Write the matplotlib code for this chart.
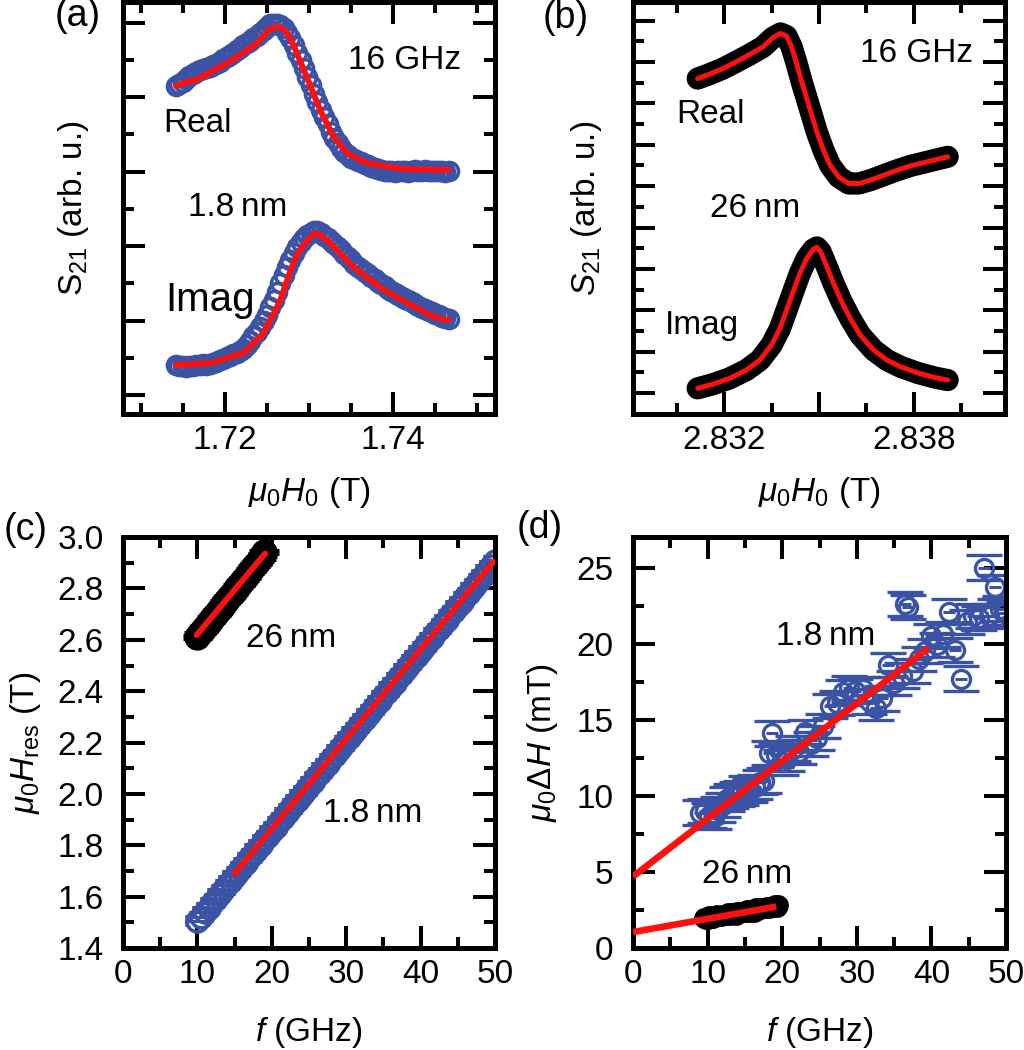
"""FMR 数据四联图：S21 谱线 (a,b)、共振场 (c)、线宽 (d)"""
import matplotlib
matplotlib.use('Agg')
import matplotlib.pyplot as plt
from matplotlib.ticker import MultipleLocator, FixedLocator, FormatStrFormatter

plt.rcParams['font.family'] = ['Liberation Sans', 'DejaVu Sans']
plt.rcParams['mathtext.fontset'] = 'custom'
plt.rcParams['mathtext.rm'] = 'Liberation Sans'
plt.rcParams['mathtext.it'] = 'Liberation Sans:italic'

BLUE = '#3a53a4'
RED = '#ff1010'

# ─── (a) 1.8 nm, 16 GHz ─────────────────────
a_H = [1.7142, 1.7146, 1.7150, 1.7154, 1.7158, 1.7162, 1.7166, 1.7170, 1.7174, 1.7178,
       1.7182, 1.7186, 1.7190, 1.7194, 1.7198, 1.7202, 1.7206, 1.7210, 1.7214, 1.7218,
       1.7222, 1.7226, 1.7230, 1.7234, 1.7238, 1.7242, 1.7246, 1.7250, 1.7254, 1.7258,
       1.7262, 1.7266, 1.7270, 1.7274, 1.7278, 1.7282, 1.7286, 1.7290, 1.7294, 1.7298,
       1.7302, 1.7306, 1.7310, 1.7314, 1.7318, 1.7322, 1.7326, 1.7330, 1.7334, 1.7338,
       1.7342, 1.7346, 1.7350, 1.7354, 1.7358, 1.7362, 1.7366, 1.7370, 1.7374, 1.7378,
       1.7382, 1.7386, 1.7390, 1.7394, 1.7398, 1.7402, 1.7406, 1.7410, 1.7414, 1.7418,
       1.7422, 1.7426, 1.7430, 1.7434, 1.7438, 1.7442, 1.7446, 1.7450, 1.7454, 1.7458,
       1.7462, 1.7466]
a_real = [8.31, 8.36, 8.42, 8.50, 8.56, 8.62, 8.68, 8.72, 8.76, 8.78,
          8.82, 8.86, 8.90, 8.95, 9.02, 9.08, 9.14, 9.20, 9.26, 9.33,
          9.40, 9.46, 9.52, 9.58, 9.65, 9.74, 9.82, 9.90, 9.96, 9.98,
          9.97, 9.93, 9.85, 9.74, 9.58, 9.40, 9.20, 9.00, 8.78, 8.55,
          8.33, 8.10, 7.88, 7.66, 7.46, 7.27, 7.08, 6.90, 6.78, 6.65,
          6.54, 6.44, 6.38, 6.33, 6.29, 6.26, 6.22, 6.18, 6.14, 6.10,
          6.08, 6.05, 6.03, 6.02, 6.01, 6.00, 6.01, 6.03, 6.02, 6.00,
          6.02, 6.04, 6.03, 6.02, 6.04, 6.03, 6.01, 6.02, 6.03, 6.02,
          6.00, 6.01]
a_real_fit = [8.31, 8.34, 8.37, 8.40, 8.43, 8.45, 8.48, 8.51, 8.56, 8.61,
              8.66, 8.71, 8.76, 8.81, 8.86, 8.91, 8.96, 9.01, 9.07, 9.14,
              9.20, 9.26, 9.32, 9.39, 9.45, 9.55, 9.65, 9.75, 9.84, 9.87,
              9.88, 9.87, 9.82, 9.72, 9.57, 9.38, 9.16, 8.94, 8.72, 8.51,
              8.29, 8.06, 7.84, 7.62, 7.44, 7.26, 7.08, 6.92, 6.81, 6.70,
              6.59, 6.49, 6.44, 6.40, 6.35, 6.31, 6.26, 6.23, 6.21, 6.20,
              6.18, 6.17, 6.15, 6.14, 6.12, 6.11, 6.09, 6.08, 6.08, 6.08,
              6.07, 6.07, 6.07, 6.06, 6.06, 6.06, 6.06, 6.05, 6.05, 6.05,
              6.05, 6.05]
a_imag = [0.81, 0.78, 0.77, 0.76, 0.77, 0.78, 0.80, 0.82, 0.83, 0.82,
          0.83, 0.86, 0.89, 0.93, 0.97, 1.02, 1.06, 1.10, 1.14, 1.18,
          1.24, 1.34, 1.46, 1.58, 1.70, 1.84, 1.98, 2.16, 2.36, 2.56,
          2.78, 3.00, 3.22, 3.44, 3.64, 3.82, 3.98, 4.12, 4.22, 4.30,
          4.36, 4.40, 4.40, 4.35, 4.28, 4.21, 4.14, 4.06, 3.98, 3.90,
          3.80, 3.71, 3.62, 3.53, 3.45, 3.38, 3.31, 3.24, 3.18, 3.12,
          3.05, 2.98, 2.92, 2.86, 2.80, 2.75, 2.70, 2.64, 2.58, 2.54,
          2.50, 2.45, 2.40, 2.35, 2.30, 2.26, 2.22, 2.18, 2.14, 2.10,
          2.06, 2.03]
a_imag_fit = [0.81, 0.81, 0.82, 0.82, 0.82, 0.83, 0.83, 0.84, 0.84, 0.85,
              0.85, 0.87, 0.90, 0.93, 0.96, 0.99, 1.02, 1.05, 1.08, 1.10,
              1.12, 1.21, 1.30, 1.39, 1.48, 1.57, 1.66, 1.84, 2.02, 2.19,
              2.37, 2.55, 2.81, 3.08, 3.34, 3.58, 3.76, 3.93, 4.04, 4.15,
              4.25, 4.32, 4.34, 4.28, 4.22, 4.14, 4.06, 3.97, 3.88, 3.78,
              3.69, 3.59, 3.50, 3.42, 3.35, 3.28, 3.21, 3.14, 3.08, 3.01,
              2.94, 2.87, 2.81, 2.76, 2.71, 2.66, 2.61, 2.56, 2.51, 2.46,
              2.41, 2.36, 2.32, 2.27, 2.22, 2.17, 2.13, 2.09, 2.06, 2.04,
              2.03, 2.02]

# ─── (b) 26 nm, 16 GHz ──────────────────────
b_H_real = [2.83115, 2.83152, 2.83195, 2.83237, 2.83280, 2.83322, 2.83354, 2.83378,
            2.83397, 2.83413, 2.83429, 2.83445, 2.83461, 2.83477, 2.83493, 2.83514,
            2.83535, 2.83562, 2.83594, 2.83626, 2.83663, 2.83705, 2.83748, 2.83790,
            2.83833, 2.83876, 2.83908]
b_real = [15.20, 15.41, 15.68, 16.01, 16.36, 16.73, 17.18, 17.38,
          17.25, 16.73, 15.93, 15.04, 14.24, 13.43, 12.62, 11.74,
          11.01, 10.45, 10.13, 10.13, 10.29, 10.53, 10.77, 10.98,
          11.14, 11.30, 11.42]
b_H_imag = [2.83115, 2.83163, 2.83216, 2.83269, 2.83312, 2.83349, 2.83376, 2.83397,
            2.83418, 2.83439, 2.83461, 2.83482, 2.83493, 2.83505, 2.83525, 2.83546,
            2.83572, 2.83599, 2.83631, 2.83673, 2.83716, 2.83759, 2.83812, 2.83865,
            2.83908]
b_imag = [0.23, 0.43, 0.71, 1.11, 1.59, 2.32, 3.12, 4.01,
          4.90, 5.78, 6.51, 6.94, 7.04, 6.83, 6.10, 5.30,
          4.41, 3.61, 2.80, 2.08, 1.59, 1.27, 0.98, 0.76,
          0.63]

# ─── (c) 共振场 vs 频率 ─────────────────────
c_f_18 = [10.0, 10.5, 11.0, 11.5, 12.0, 12.5, 13.0, 13.5, 14.0, 14.5, 15.0, 15.5,
          16.0, 16.5, 17.0, 17.5, 18.0, 18.5, 19.0, 19.5, 20.0, 20.5, 21.0, 21.5,
          22.0, 22.5, 23.0, 23.5, 24.0, 24.5, 25.0, 25.5, 26.0, 26.5, 27.0, 27.5,
          28.0, 28.5, 29.0, 29.5, 30.0, 30.5, 31.0, 31.5, 32.0, 32.5, 33.0, 33.5,
          34.0, 34.5, 35.0, 35.5, 36.0, 36.5, 37.0, 37.5, 38.0, 38.5, 39.0, 39.5,
          40.0, 40.5, 41.0, 41.5, 42.0, 42.5, 43.0, 43.5, 44.0, 44.5, 45.0, 45.5,
          46.0, 46.5, 47.0, 47.5, 48.0, 48.5, 49.0, 49.5, 50.0]
c_H_18 = [1.505, 1.522, 1.540, 1.557, 1.575, 1.592, 1.610, 1.627, 1.645, 1.662, 1.680, 1.697,
          1.715, 1.732, 1.750, 1.767, 1.785, 1.802, 1.820, 1.837, 1.855, 1.872, 1.890, 1.907,
          1.925, 1.942, 1.960, 1.977, 1.995, 2.012, 2.030, 2.047, 2.065, 2.082, 2.100, 2.117,
          2.135, 2.152, 2.170, 2.187, 2.205, 2.222, 2.240, 2.257, 2.275, 2.292, 2.310, 2.327,
          2.345, 2.362, 2.380, 2.397, 2.415, 2.432, 2.450, 2.467, 2.485, 2.502, 2.520, 2.537,
          2.555, 2.572, 2.590, 2.607, 2.625, 2.642, 2.660, 2.677, 2.695, 2.712, 2.730, 2.747,
          2.765, 2.782, 2.800, 2.817, 2.835, 2.852, 2.870, 2.887, 2.905]
c_fit_f_18 = [15.05, 49.8]
c_fit_H_18 = [1.691, 2.904]
c_f_26 = [10.0, 10.25, 10.5, 10.75, 11.0, 11.25, 11.5, 11.75, 12.0, 12.25, 12.5, 12.75,
          13.0, 13.25, 13.5, 13.75, 14.0, 14.25, 14.5, 14.75, 15.0, 15.25, 15.5, 15.75,
          16.0, 16.25, 16.5, 16.75, 17.0, 17.25, 17.5, 17.75, 18.0, 18.25, 18.5, 18.75, 19.0]
c_H_26 = [2.612, 2.621, 2.630, 2.639, 2.648, 2.657, 2.666, 2.675, 2.684, 2.693, 2.702, 2.711,
          2.720, 2.729, 2.738, 2.747, 2.756, 2.765, 2.774, 2.783, 2.792, 2.801, 2.810, 2.819,
          2.828, 2.837, 2.846, 2.855, 2.864, 2.873, 2.882, 2.891, 2.900, 2.909, 2.918, 2.929, 2.940]
c_fit_f_26 = [9.9, 19.1]
c_fit_H_26 = [2.618, 2.936]

# ─── (d) 线宽 vs 频率 ───────────────────────
d_f_18 = [9.0, 9.6, 10.2, 10.8, 11.4, 12.0, 12.6, 13.2, 13.9, 14.5, 15.1, 15.7, 16.3,
          17.0, 17.6, 18.2, 18.6, 19.2, 19.8, 20.6, 21.4, 22.2, 23.0, 23.8, 24.6,
          25.5, 26.4, 27.3, 28.2, 29.0, 29.8, 30.8, 31.6, 32.6, 33.4, 34.2, 35.0,
          36.0, 36.4, 36.9, 37.6, 38.4, 39.2, 40.0, 40.8, 41.6, 42.4, 43.2, 44.0,
          44.8, 45.6, 46.4, 47.0, 47.7, 48.5, 49.2, 49.7]
d_W_18 = [8.9, 9.0, 8.7, 8.6, 9.1, 9.4, 9.8, 10.0, 10.1, 10.2, 10.5, 10.4, 10.6,
          10.9, 11.0, 12.8, 14.1, 12.7, 12.2, 12.4, 13.1, 12.9, 14.2, 13.4, 13.8,
          14.6, 15.9, 16.1, 16.8, 17.1, 16.9, 17.0, 16.2, 15.8, 16.4, 18.6, 17.4,
          17.9, 22.6, 22.4, 18.2, 19.0, 19.5, 20.5, 19.9, 20.6, 22.1, 19.6, 17.7,
          21.4, 21.8, 21.7, 25.0, 21.8, 23.7, 22.3, 22.0]
d_fit_f_18 = [0.0, 39.6]
d_fit_W_18 = [4.7, 19.7]
d_f_26 = [9.5, 9.75, 10.0, 10.25, 10.5, 10.75, 11.0, 11.25, 11.5, 11.75, 12.0, 12.25,
          12.5, 12.75, 13.0, 13.25, 13.5, 13.75, 14.0, 14.25, 14.5, 14.75, 15.0, 15.25,
          15.5, 15.75, 16.0, 16.25, 16.5, 16.75, 17.0, 17.25, 17.5, 17.75, 18.0, 18.25,
          18.5, 18.75, 19.0, 19.25, 19.5]
d_W_26 = [2.0, 1.9, 1.9, 2.1, 2.0, 2.0, 2.1, 2.2, 2.1, 2.1, 2.2, 2.2,
          2.2, 2.3, 2.2, 2.3, 2.3, 2.2, 2.4, 2.3, 2.4, 2.4, 2.4, 2.5,
          2.4, 2.5, 2.5, 2.4, 2.6, 2.5, 2.6, 2.6, 2.6, 2.6, 2.7, 2.6,
          2.7, 2.7, 2.8, 2.7, 2.8]
d_fit_f_26 = [0.0, 19.2]
d_fit_W_26 = [1.05, 2.72]

FS = 24


def style(ax):
    for sp in ax.spines.values():
        sp.set_linewidth(3.6)
    ax.tick_params(which='both', direction='in', top=True, right=True, width=2.9,
                   labelsize=FS)
    ax.tick_params(which='major', length=15.5)
    ax.tick_params(which='minor', length=8)


def note(ax, x, y, s, size=24):
    ax.text(x, y, s, transform=ax.transAxes, fontsize=size, ha='center', va='center')


fig = plt.figure(figsize=(10.24, 10.5), dpi=100)
fig.patch.set_facecolor('white')

# ─── (a) ─────────────────────────────────────
ax1 = fig.add_axes([0.1201, 0.6057, 0.3633, 0.3924])
ax1.plot(a_H, a_real, 'o', ms=13, mfc='none', mec=BLUE, mew=2.6)
ax1.plot(a_H, a_imag, 'o', ms=13, mfc='none', mec=BLUE, mew=2.6)
ax1.plot(a_H, a_real_fit, color=RED, lw=4.3, solid_capstyle='round', zorder=5)
ax1.plot(a_H, a_imag_fit, color=RED, lw=4.3, solid_capstyle='round', zorder=5)
ax1.set_xlim(1.7079, 1.7521)
ax1.set_ylim(-0.51, 10.56)
ax1.xaxis.set_major_locator(FixedLocator([1.72, 1.74]))
ax1.xaxis.set_minor_locator(MultipleLocator(0.005))
ax1.yaxis.set_major_locator(MultipleLocator(2))
ax1.yaxis.set_minor_locator(MultipleLocator(1))
style(ax1)
ax1.tick_params(axis='y', labelleft=False)
ax1.tick_params(axis='x', pad=8)
ax1.set_xlabel(r'$\mu_0H_0$ (T)', fontsize=24)
ax1.xaxis.set_label_coords(0.5, -0.148)
ax1.set_ylabel(r'S$_{21}$ (arb. u.)', fontsize=24)
ax1.yaxis.set_label_coords(-0.086, 0.5)
note(ax1, 0.758, 0.859, '16 GHz')
note(ax1, 0.199, 0.706, 'Real')
note(ax1, 0.309, 0.502, '1.8\u2009nm')
note(ax1, 0.234, 0.277, 'Imag', size=29)

# ─── (b) ─────────────────────────────────────
ax2 = fig.add_axes([0.6182, 0.6057, 0.3633, 0.3924])
for hh, yy in [(b_H_real, b_real), (b_H_imag, b_imag)]:
    ax2.plot(hh, yy, color='black', lw=16, solid_capstyle='round', solid_joinstyle='round')
    ax2.plot(hh, yy, color=RED, lw=3.6, solid_capstyle='round', zorder=5)
ax2.set_xlim(2.8291, 2.8409)
ax2.set_ylim(-1.01, 18.9)
ax2.xaxis.set_major_locator(FixedLocator([2.832, 2.835, 2.838]))
ax2.xaxis.set_minor_locator(MultipleLocator(0.0015))
ax2.yaxis.set_major_locator(MultipleLocator(2))
ax2.yaxis.set_minor_locator(MultipleLocator(1))
style(ax2)
ax2.set_xticklabels(['2.832', '', '2.838'])
ax2.tick_params(axis='y', labelleft=False)
ax2.tick_params(axis='x', pad=8)
ax2.set_xlabel(r'$\mu_0H_0$ (T)', fontsize=24)
ax2.xaxis.set_label_coords(0.5, -0.148)
ax2.set_ylabel(r'$S_{21}$ (arb. u.)', fontsize=24)
ax2.yaxis.set_label_coords(-0.078, 0.5)
note(ax2, 0.763, 0.876, '16 GHz')
note(ax2, 0.207, 0.726, 'Real')
note(ax2, 0.328, 0.500, '26\u2009nm')
note(ax2, 0.185, 0.216, 'Imag')

# ─── (c) ─────────────────────────────────────
ax3 = fig.add_axes([0.1201, 0.0971, 0.3633, 0.3914])
ax3.errorbar(c_f_26, c_H_26, xerr=2.0, fmt='o', ms=19, color='black', mew=0,
             ecolor='black', elinewidth=5, capsize=0)
ax3.errorbar(c_f_18, c_H_18, xerr=1.4, fmt='o', ms=15, mfc='none', mec=BLUE, mew=2.6,
             ecolor=BLUE, elinewidth=2.2, capsize=4, capthick=2.2)
ax3.plot(c_fit_f_26, c_fit_H_26, color=RED, lw=4.3, solid_capstyle='round', zorder=5)
ax3.plot(c_fit_f_18, c_fit_H_18, color=RED, lw=4.3, solid_capstyle='round', zorder=5)
ax3.set_xlim(0, 50)
ax3.set_ylim(1.4, 3.0)
ax3.xaxis.set_major_locator(MultipleLocator(10))
ax3.xaxis.set_minor_locator(MultipleLocator(5))
ax3.yaxis.set_major_locator(MultipleLocator(0.2))
ax3.yaxis.set_minor_locator(MultipleLocator(0.1))
style(ax3)
ax3.yaxis.set_major_formatter(FormatStrFormatter('%.1f'))
ax3.tick_params(axis='x', pad=8)
ax3.tick_params(axis='y', pad=14)
ax3.set_xlabel(r'$f$ (GHz)', fontsize=24)
ax3.xaxis.set_label_coords(0.5, -0.163)
ax3.set_ylabel(r'$\mu_0H_{\rm res}$ (T)', fontsize=24)
ax3.yaxis.set_label_coords(-0.215, 0.5)
note(ax3, 0.453, 0.754, '26\u2009nm')
note(ax3, 0.672, 0.328, '1.8\u2009nm')

# ─── (d) ─────────────────────────────────────
ax4 = fig.add_axes([0.6182, 0.0971, 0.3642, 0.3914])
ax4.errorbar(d_f_18, d_W_18, xerr=0.8, fmt='none', ecolor=BLUE, elinewidth=2.2, capsize=0)
ax4.errorbar(d_f_18, d_W_18, yerr=0.8, fmt='o', ms=13, mfc='none', mec=BLUE, mew=2.4,
             ecolor=BLUE, elinewidth=0, capsize=13, capthick=2.2)
ax4.errorbar(d_f_26, d_W_26, xerr=0.7, yerr=0.4, fmt='o', ms=15, color='black', mew=0,
             ecolor='black', elinewidth=2.5, capsize=6, capthick=2.5)
ax4.plot(d_fit_f_18, d_fit_W_18, color=RED, lw=4.8, solid_capstyle='butt', zorder=5)
ax4.plot(d_fit_f_26, d_fit_W_26, color=RED, lw=4.8, solid_capstyle='butt', zorder=5)
ax4.set_xlim(0, 50)
ax4.set_ylim(0, 27)
ax4.xaxis.set_major_locator(MultipleLocator(10))
ax4.xaxis.set_minor_locator(MultipleLocator(5))
ax4.yaxis.set_major_locator(MultipleLocator(5))
ax4.yaxis.set_minor_locator(MultipleLocator(2.5))
style(ax4)
ax4.tick_params(axis='x', pad=8)
ax4.tick_params(axis='y', pad=14)
ax4.set_xlabel(r'$f$ (GHz)', fontsize=24)
ax4.xaxis.set_label_coords(0.5, -0.163)
ax4.set_ylabel(r'$\mu_0\mathit{\Delta H}$ (mT)', fontsize=24)
ax4.yaxis.set_label_coords(-0.196, 0.5)
note(ax4, 0.516, 0.757, '1.8\u2009nm')
note(ax4, 0.306, 0.178, '26\u2009nm')

# 面板编号
fig.text(78/1024, 1 - 16/1050, '(a)', fontsize=27, ha='center', va='center')
fig.text(566/1024, 1 - 18/1050, '(b)', fontsize=27, ha='center', va='center')
fig.text(26/1024, 1 - 530/1050, '(c)', fontsize=27, ha='center', va='center')
fig.text(540/1024, 1 - 528/1050, '(d)', fontsize=27, ha='center', va='center')

plt.savefig('out.png', dpi=100, facecolor=fig.get_facecolor())
